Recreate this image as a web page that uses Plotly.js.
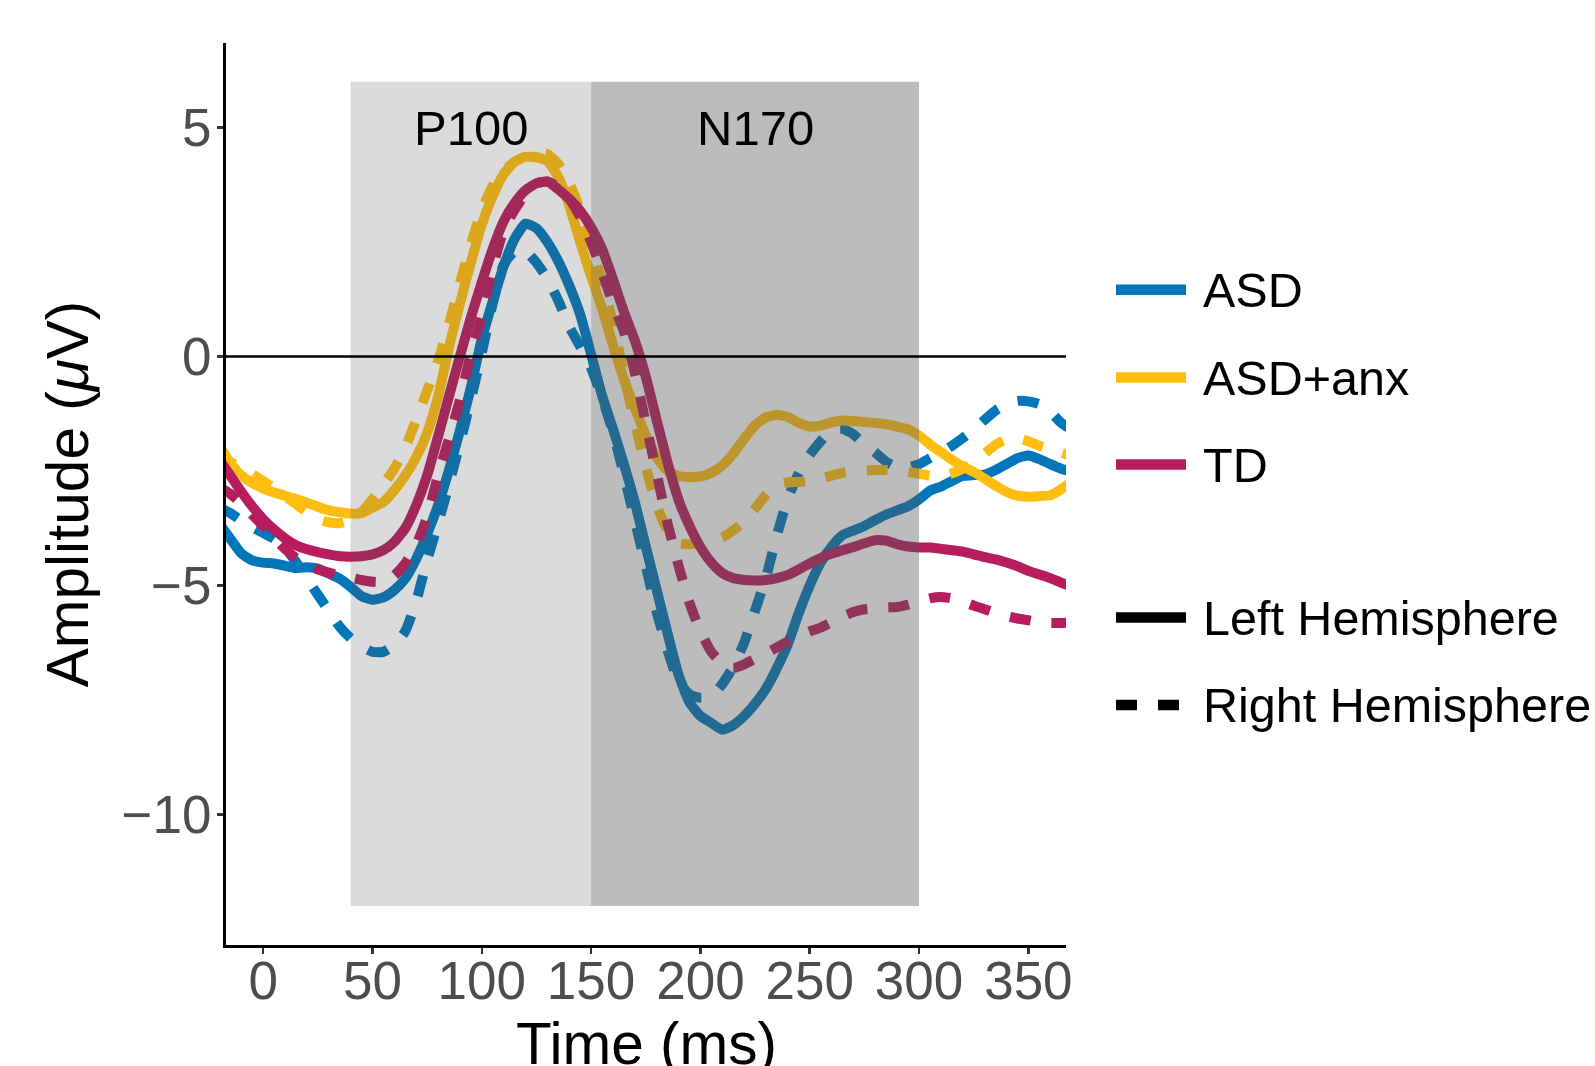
<!DOCTYPE html>
<html>
<head>
<meta charset="utf-8">
<script src="https://cdn.plot.ly/plotly-3.0.1.min.js"></script>
<style>
  html, body { margin: 0; padding: 0; background: #ffffff; }
  #chart { width: 1595px; height: 1066px; }
</style>
</head>
<body>
<div id="chart"></div>
<script>
// ---------------- DATA ----------------
const timeMs = [-20,-15,-10,-5,0,5,10,15,20,25,30,35,40,45,50,55,60,65,70,75,80,85,90,95,100,105,110,115,120,125,130,135,140,145,150,155,160,165,170,175,180,185,190,195,200,205,210,215,220,225,230,235,240,245,250,255,260,265,270,275,280,285,290,295,300,305,310,315,320,325,330,335,340,345,350,355,360,365,370];

const asdLeft = [-3.65,-3.98,-4.3,-4.45,-4.5,-4.52,-4.57,-4.62,-4.6,-4.63,-4.74,-4.85,-5.03,-5.23,-5.31,-5.26,-5.1,-4.85,-4.42,-3.88,-3.25,-2.48,-1.62,-0.68,0.38,1.2,1.97,2.57,2.9,2.8,2.5,2.08,1.55,0.92,0.05,-0.85,-1.58,-2.35,-3.18,-4.15,-5.1,-6.05,-6.95,-7.55,-7.85,-8.0,-8.15,-8.05,-7.85,-7.58,-7.25,-6.8,-6.28,-5.6,-5.0,-4.5,-4.15,-3.9,-3.8,-3.7,-3.57,-3.45,-3.36,-3.27,-3.12,-2.93,-2.84,-2.72,-2.61,-2.59,-2.58,-2.48,-2.35,-2.22,-2.16,-2.24,-2.35,-2.45,-2.52];

const asdRight = [-3.3,-3.42,-3.58,-3.73,-3.85,-3.98,-4.18,-4.48,-4.85,-5.2,-5.55,-5.9,-6.15,-6.33,-6.45,-6.45,-6.3,-6.0,-5.35,-4.45,-3.65,-2.8,-1.9,-0.95,0.08,1.15,2.0,2.3,2.3,2.05,1.7,1.22,0.65,0.22,-0.25,-0.9,-1.65,-2.58,-3.58,-4.58,-5.58,-6.42,-7.1,-7.38,-7.45,-7.42,-7.15,-6.78,-6.25,-5.55,-4.82,-3.9,-3.1,-2.55,-2.15,-1.85,-1.6,-1.58,-1.7,-1.92,-2.1,-2.3,-2.42,-2.42,-2.35,-2.22,-2.1,-1.95,-1.78,-1.6,-1.38,-1.18,-1.05,-0.97,-0.98,-1.04,-1.2,-1.45,-1.6];

const anxLeft = [-1.95,-2.32,-2.6,-2.76,-2.88,-2.97,-3.04,-3.11,-3.19,-3.28,-3.36,-3.4,-3.43,-3.42,-3.3,-3.18,-2.92,-2.6,-2.2,-1.67,-0.88,0.2,1.15,2.05,2.88,3.5,3.98,4.25,4.36,4.35,4.27,3.92,3.3,2.5,1.75,1.05,0.25,-0.5,-1.13,-1.72,-2.2,-2.5,-2.61,-2.63,-2.62,-2.54,-2.38,-2.12,-1.8,-1.5,-1.33,-1.27,-1.32,-1.45,-1.53,-1.51,-1.44,-1.4,-1.41,-1.43,-1.45,-1.48,-1.53,-1.59,-1.73,-1.92,-2.09,-2.25,-2.4,-2.52,-2.67,-2.82,-2.96,-3.04,-3.06,-3.05,-3.03,-2.9,-2.72];

const anxRight = [-2.05,-2.3,-2.45,-2.57,-2.72,-2.88,-3.05,-3.22,-3.4,-3.55,-3.62,-3.64,-3.58,-3.4,-3.12,-2.8,-2.45,-2.0,-1.38,-0.75,-0.1,0.7,1.6,2.45,3.2,3.72,4.05,4.25,4.37,4.44,4.42,4.2,3.8,3.2,2.45,1.6,0.75,-0.4,-1.45,-2.4,-3.25,-3.8,-4.08,-4.1,-4.07,-4.04,-3.95,-3.8,-3.6,-3.32,-3.02,-2.8,-2.75,-2.74,-2.72,-2.67,-2.6,-2.54,-2.5,-2.49,-2.48,-2.48,-2.49,-2.52,-2.56,-2.6,-2.62,-2.55,-2.45,-2.32,-2.12,-1.93,-1.8,-1.78,-1.85,-1.95,-2.02,-2.1,-2.18];

const tdLeft = [-2.25,-2.6,-2.95,-3.27,-3.55,-3.78,-3.97,-4.12,-4.21,-4.27,-4.32,-4.36,-4.37,-4.36,-4.32,-4.23,-4.05,-3.75,-3.25,-2.6,-1.75,-0.87,0.0,0.85,1.62,2.35,2.95,3.35,3.63,3.78,3.82,3.65,3.44,3.18,2.82,2.35,1.69,0.98,0.35,-0.44,-1.39,-2.32,-3.13,-3.7,-4.16,-4.5,-4.73,-4.84,-4.88,-4.89,-4.88,-4.84,-4.77,-4.65,-4.52,-4.4,-4.3,-4.23,-4.16,-4.08,-4.01,-4.02,-4.1,-4.15,-4.17,-4.17,-4.2,-4.23,-4.26,-4.32,-4.38,-4.43,-4.5,-4.58,-4.68,-4.76,-4.84,-4.94,-5.02];

const tdRight = [-2.85,-3.0,-3.2,-3.45,-3.7,-3.95,-4.2,-4.4,-4.55,-4.65,-4.72,-4.78,-4.83,-4.88,-4.92,-4.92,-4.78,-4.52,-4.12,-3.5,-2.6,-1.8,-0.95,0.06,0.9,1.95,2.75,3.2,3.55,3.78,3.82,3.7,3.45,3.05,2.5,1.85,1.15,0.55,-0.35,-1.45,-2.55,-3.65,-4.57,-5.38,-6.0,-6.45,-6.7,-6.8,-6.72,-6.6,-6.48,-6.35,-6.22,-6.1,-6.0,-5.92,-5.8,-5.68,-5.58,-5.52,-5.5,-5.48,-5.47,-5.42,-5.35,-5.28,-5.25,-5.28,-5.35,-5.44,-5.52,-5.6,-5.67,-5.72,-5.76,-5.8,-5.82,-5.82,-5.8];

const groupNames = ["ASD", "ASD+anx", "TD"];
const hemisphereNames = ["Left Hemisphere", "Right Hemisphere"];
const componentNames = ["P100", "N170"];
const componentWindows = [[40, 150], [150, 300]];
const xTickVals = [0, 50, 100, 150, 200, 250, 300, 350];
const yTickVals = [-10, -5, 0, 5];
const yTickText = ["\u221210", "\u22125", "0", "5"];
const xTitle = "Time (ms)";
const yTitle = "Amplitude (<i>\u03bc</i>V)";

// ---------------- STYLE ----------------
const groupColors = ["#0077BB", "#FFBE0F", "#B71D5C"];
const dashStyles = ["solid", "21px,21px"];
const FONT = "Liberation Sans, Arial, Helvetica, sans-serif";
const LW = 10;

const seriesByGroup = [[asdLeft, asdRight], [anxLeft, anxRight], [tdLeft, tdRight]];

const traces = [];
seriesByGroup.forEach((pair, gi) => {
  pair.forEach((vals, hi) => {
    traces.push({
      type: "scatter",
      mode: "lines",
      x: timeMs,
      y: vals,
      name: groupNames[gi] + " " + hemisphereNames[hi],
      line: { color: groupColors[gi], width: LW, dash: dashStyles[hi], shape: "spline", smoothing: 0.5 },
      hoverinfo: "skip",
      showlegend: false
    });
  });
});

// plot-area geometry (pixels) for the hand-drawn legend and x title
const M = { l: 226, r: 529, t: 43, b: 121 };
const W = 1595, H = 1066;
const PW = W - M.l - M.r, PH = H - M.t - M.b;
const px = v => (v - M.l) / PW;
const py = v => (H - M.b - v) / PH;

const shapes = [
  { type: "rect", xref: "x", yref: "y", x0: componentWindows[0][0], x1: componentWindows[0][1], y0: -12, y1: 6,
    fillcolor: "rgba(87,87,87,0.21)", line: { width: 0 }, layer: "above" },
  { type: "rect", xref: "x", yref: "y", x0: componentWindows[1][0], x1: componentWindows[1][1], y0: -12, y1: 6,
    fillcolor: "rgba(87,87,87,0.40)", line: { width: 0 }, layer: "above" },
  { type: "line", xref: "paper", yref: "y", x0: 0, x1: 1, y0: 0, y1: 0,
    line: { color: "#000000", width: 2.5 }, layer: "above" }
];

const annotations = [];
componentNames.forEach((name, i) => {
  annotations.push({
    x: (componentWindows[i][0] + componentWindows[i][1]) / 2, y: 5, xref: "x", yref: "y",
    text: name, showarrow: false, xanchor: "center", yanchor: "middle",
    font: { family: FONT, size: 49, color: "#000000" }
  });
});

// x-axis title (placed as an annotation so it can sit at the very bottom edge like the original)
annotations.push({
  x: 0.5, y: py(1043), xref: "paper", yref: "paper", text: xTitle,
  showarrow: false, xanchor: "center", yanchor: "middle",
  font: { family: FONT, size: 58.5, color: "#000000" }
});

// legend
const legSwX0 = 1116, legSwX1 = 1186, legTextX = 1201;
const groupLegY = [289.7, 377.5, 464.6];
const hemiLegY = [617.5, 705];
groupNames.forEach((name, i) => {
  shapes.push({ type: "line", xref: "paper", yref: "paper", x0: px(legSwX0), x1: px(legSwX1),
    y0: py(groupLegY[i]), y1: py(groupLegY[i]), line: { color: groupColors[i], width: 10.5 } });
  annotations.push({ x: px(legTextX), y: py(groupLegY[i]), xref: "paper", yref: "paper", text: name,
    showarrow: false, xanchor: "left", yanchor: "middle", font: { family: FONT, size: 48.5, color: "#000000" } });
});
hemisphereNames.forEach((name, i) => {
  shapes.push({ type: "line", xref: "paper", yref: "paper", x0: px(legSwX0), x1: px(legSwX1),
    y0: py(hemiLegY[i]), y1: py(hemiLegY[i]), line: { color: "#000000", width: 10.5, dash: dashStyles[i] } });
  annotations.push({ x: px(legTextX), y: py(hemiLegY[i]), xref: "paper", yref: "paper", text: name,
    showarrow: false, xanchor: "left", yanchor: "middle", font: { family: FONT, size: 48.5, color: "#000000" } });
});

const layout = {
  width: W, height: H,
  margin: M,
  paper_bgcolor: "#ffffff",
  plot_bgcolor: "#ffffff",
  showlegend: false,
  font: { family: FONT },
  xaxis: {
    range: [-16.97, 367.2],
    tickmode: "array", tickvals: xTickVals,
    ticks: "outside", ticklen: 6, tickwidth: 2.5, tickcolor: "#333333",
    ticklabelstandoff: -19,
    tickfont: { family: FONT, size: 53, color: "#4D4D4D" },
    showline: true, linecolor: "#000000", linewidth: 3,
    showgrid: false, zeroline: false,
    automargin: false
  },
  yaxis: {
    range: [-12.85, 6.845],
    tickmode: "array", tickvals: yTickVals, ticktext: yTickText,
    ticks: "outside", ticklen: 6, tickwidth: 2.5, tickcolor: "#333333",
    ticklabelstandoff: -5,
    tickfont: { family: FONT, size: 53, color: "#4D4D4D" },
    showline: true, linecolor: "#000000", linewidth: 3,
    showgrid: false, zeroline: false,
    automargin: false,
    title: { text: yTitle, font: { family: FONT, size: 58.5, color: "#000000" }, standoff: 15 }
  },
  shapes: shapes,
  annotations: annotations
};

Plotly.newPlot("chart", traces, layout, { staticPlot: true, displayModeBar: false });
</script>
</body>
</html>
